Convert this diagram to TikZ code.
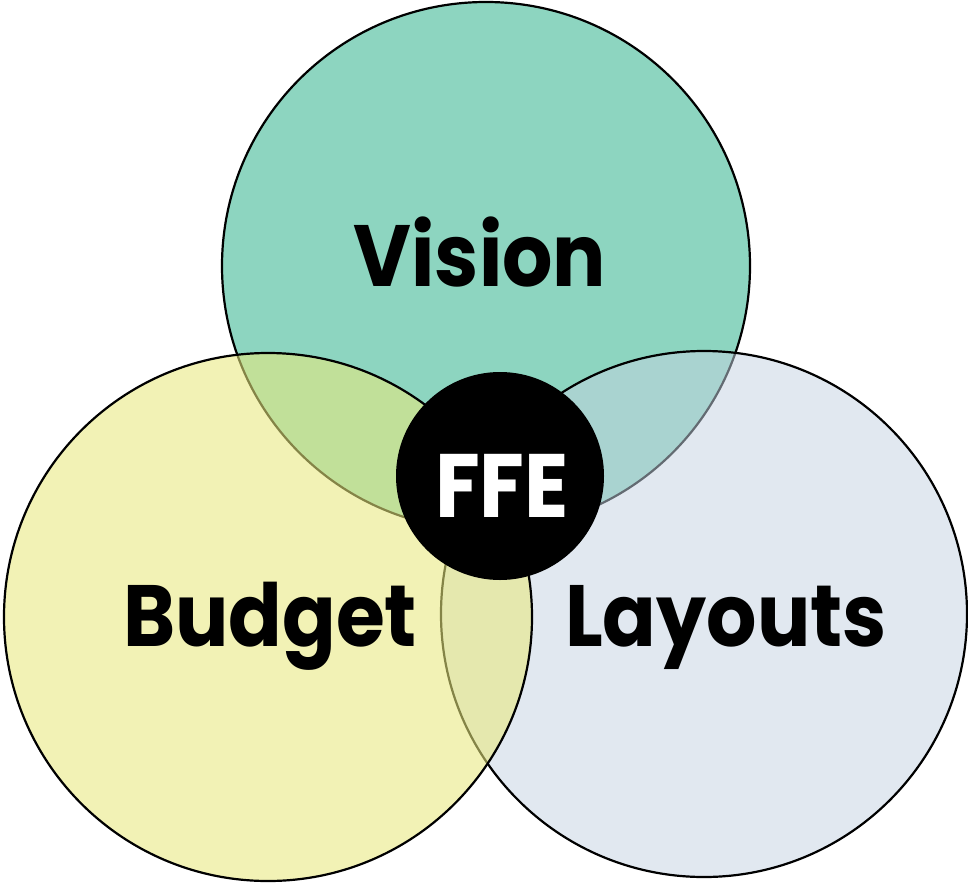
\documentclass[tikz,border=0pt]{standalone}
\usepackage{fontspec}
\setmainfont{Poppins}[FakeStretch=0.91]
\usepackage{tikz}
\definecolor{visionfill}{RGB}{141,213,192}
\definecolor{layoutsfill}{RGB}{196,210,225}
\definecolor{budgetfill}{RGB}{233,233,125}

\begin{document}
\begin{tikzpicture}[x=1pt,y=-1pt,
    venn/.style={draw=black,line width=2.2pt},
    word/.style={anchor=base,inner sep=0pt,font=\fontsize{87}{87}\selectfont\bfseries}]
            \useasboundingbox (0,0) rectangle (968,883);
            \draw[venn,fill=visionfill] (486,266) coordinate (vision) circle[radius=264pt];
            \draw[venn,fill=layoutsfill,fill opacity=0.51] (704,614) coordinate (layouts) circle[radius=263pt];
            \draw[venn,fill=budgetfill,fill opacity=0.57] (268,617) coordinate (budget) circle[radius=264pt];
            \fill[black] (500,476) coordinate (ffe) circle[radius=104pt];
            \node[word] (visiontext) at (480,286) {Vision};
            \node[word] (budgettext) at (270,646) {Budget};
            \node[word] (layoutstext) at (726,646) {Layouts};
            \node[word,white,font=\fontsize{90}{90}\selectfont\bfseries] (ffetext) at (502,517) {FFE};
          \end{tikzpicture}
\end{document}
